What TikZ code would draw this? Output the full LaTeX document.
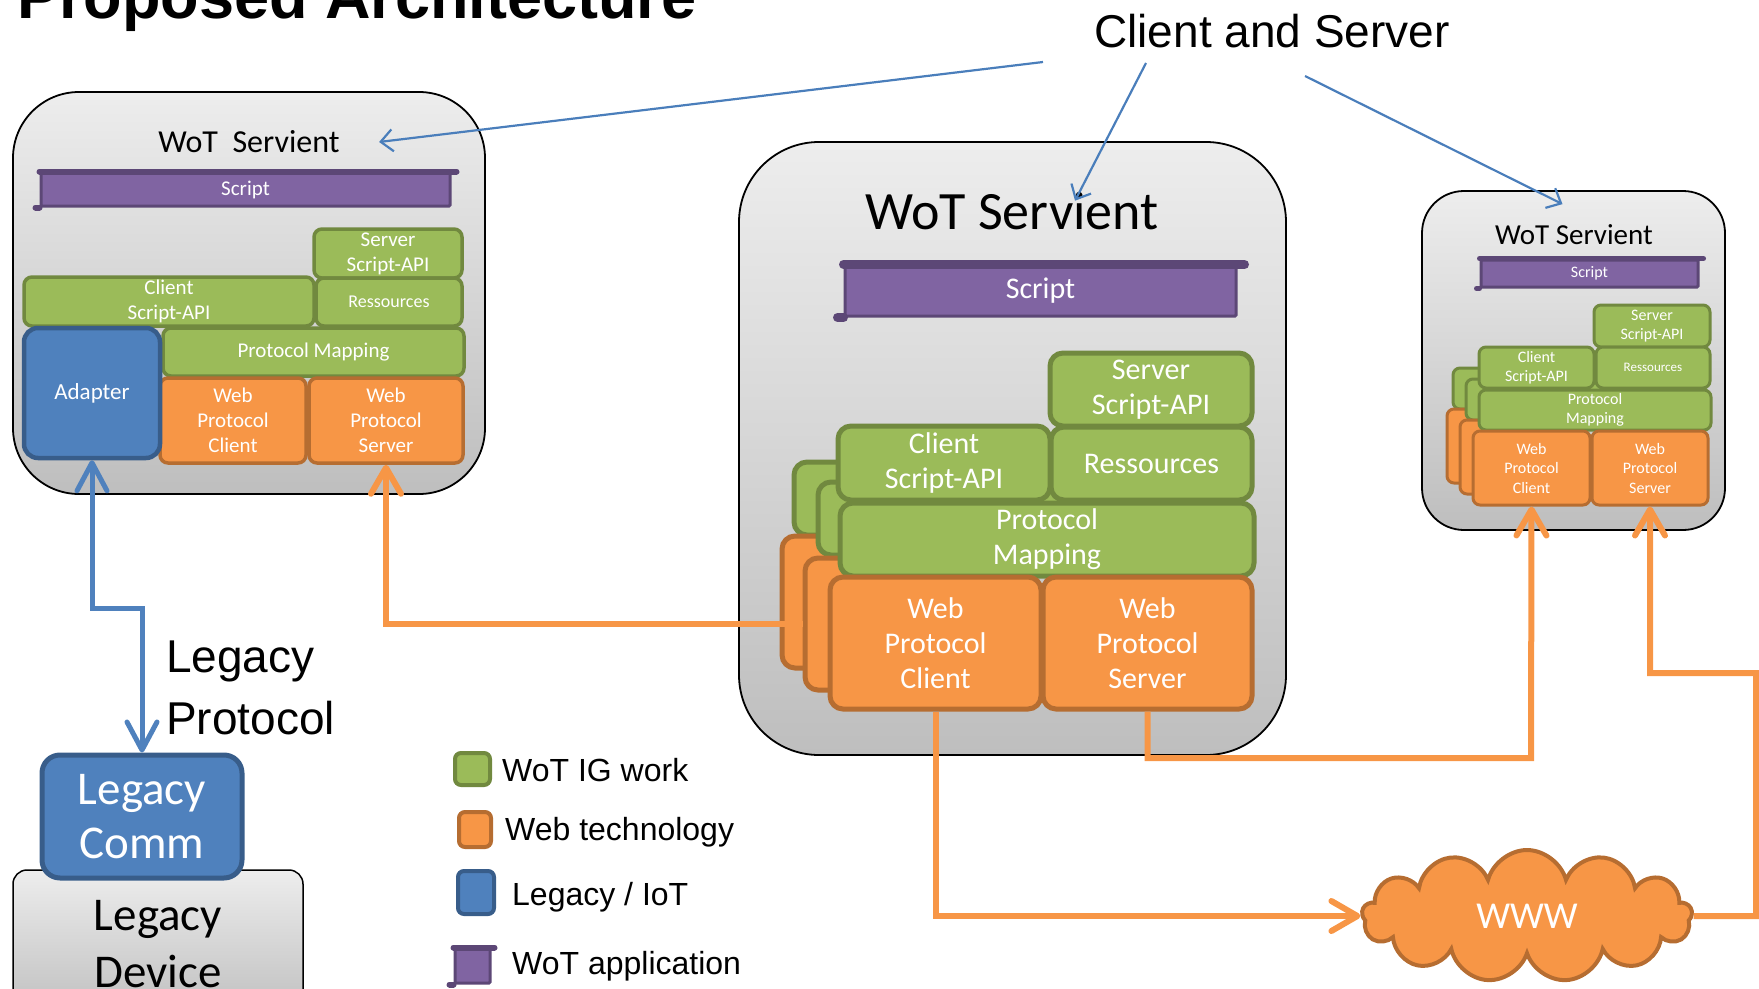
\documentclass[tikz,border=0pt]{standalone}
\usepackage{fontspec}
\setmainfont{Carlito}
\newfontfamily\helv{Liberation Sans}
\usetikzlibrary{arrows.meta,positioning,shapes.symbols}
\newcommand{\fsz}[2]{\fontsize{#1}{#2}\selectfont}

\definecolor{wotgreen}{HTML}{9BBB59}
\definecolor{wotgreenD}{HTML}{71893F}
\definecolor{weborange}{HTML}{F79646}
\definecolor{weborangeD}{HTML}{B66D31}
\definecolor{legblue}{HTML}{4F81BD}
\definecolor{legblueD}{HTML}{385D8A}
\definecolor{apppurple}{HTML}{8064A2}
\definecolor{apppurpleD}{HTML}{5C4776}
\definecolor{servtop}{HTML}{EDEDED}
\definecolor{servbot}{HTML}{BEBEBE}
\definecolor{calloutblue}{HTML}{4A7EBB}

\tikzset{
  dims/.style 2 args={minimum width=#1pt, minimum height=#2pt},
  stackbox/.style={rounded corners=8pt, line width=3.5pt, inner sep=0pt, align=center, text=white},
  wotig/.style={stackbox, fill=wotgreen, draw=wotgreenD},
  webtech/.style={stackbox, fill=weborange, draw=weborangeD},
  legacy/.style={stackbox, fill=legblue, draw=legblueD},
  scriptbar/.style={stackbox, rounded corners=1pt, line width=3pt, fill=apppurple, draw=apppurpleD},
  scrollrim/.style={draw=apppurpleD, line width=7pt, line cap=round},
  servient/.style={draw=black, line width=1.8pt, top color=servtop, bottom color=servbot, inner sep=0pt, align=center},
  webarrow/.style={draw=weborange, line width=6pt, -{Straight Barb[length=26pt,width=30pt,round]}},
  legline/.style={draw=legblue, line width=5pt},
  callout/.style={draw=calloutblue, line width=2.2pt, -{Straight Barb[length=12pt,width=22pt]}},
  keytext/.style={anchor=west, inner sep=0pt, font=\helv\fsz{32}{36}}
}

\begin{document}
\begin{tikzpicture}[x=1pt, y=-1pt]
\useasboundingbox (0,0) rectangle (1759,988);
\clip (0,0) rectangle (1759,988);

\node[anchor=base west, inner sep=0pt, font=\helv\bfseries\fsz{63}{63}] (title) at (17,18) {Proposed Architecture};
\node[anchor=base west, inner sep=0pt, font=\helv\fsz{46}{50}] (cands) at (1094,47) {Client and Server};

% left servient
\node[servient, rounded corners=66pt, dims={472}{402}] (lserv) at (249,293) {};
\node[font=\fsz{32}{36}] (ltitle) at (249,142) {WoT~~Servient};
\begin{scope}[every node/.append style={font=\fsz{21}{25}}]
  \node[scriptbar, dims={409}{33}] (lscript) at (245.5,189.5) {Script};
  \draw[scrollrim, line width=6pt] (lscript.north west) -- ([xshift=5pt]lscript.north east);
  \draw[scrollrim, line width=6pt] ([xshift=-4pt]lscript.south west) -- (lscript.south west);
  \node[wotig, dims={148}{49}] (lsapi) at (388,253.5) {Server\\Script-API};
  \node[wotig, dims={290}{49}] (lcapi) at (169,301.5) {Client\\Script-API};
  \node[wotig, dims={146}{48}, font=\fsz{18}{22}] (lres) at (389,302) {Ressources};
  \node[wotig, dims={301}{48}] (lpm) at (313.5,352) {Protocol Mapping};
  \node[webtech, dims={146}{85}] (lwpc) at (233,420.5) {Web\\Protocol\\Client};
  \node[webtech, dims={154}{85}] (lwps) at (386,420.5) {Web\\Protocol\\Server};
  \node[legacy, rounded corners=14pt, line width=4.5pt, dims={136}{130}, font=\fsz{23}{27}] (adapter) at (92,393) {Adapter};
\end{scope}

% middle servient
\node[servient, rounded corners=80pt, dims={547}{613}] (mserv) at (1012.5,448.5) {};
\node[font=\fsz{54}{58}] (mtitle) at (1012,211) {WoT Servient};
\begin{scope}[every node/.append style={font=\fsz{30}{35}}, wotig/.append style={rounded corners=13pt, line width=5pt}, webtech/.append style={rounded corners=13pt, line width=5pt}]
  \node[scriptbar, dims={391}{50}] (mscript) at (1040.5,291) {Script};
  \draw[scrollrim, line width=9pt] (mscript.north west) -- ([xshift=7pt]mscript.north east);
  \draw[scrollrim, line width=9pt] ([xshift=-6pt]mscript.south west) -- (mscript.south west);
  \node[wotig, dims={414}{73}] (mpmback) at (1001,498.5) {};
  \node[webtech, dims={211}{132}] (mwpcback) at (887.5,602) {};
  \node[wotig, dims={414}{73}] (mpmmid) at (1025,518.5) {};
  \node[webtech, dims={211}{132}] (mwpcmid) at (910.5,624) {};
  \node[wotig, dims={202}{73}] (msapi) at (1151,389.5) {Server\\Script-API};
  \node[wotig, dims={212}{74}] (mcapi) at (944,463) {Client\\Script-API};
  \node[wotig, dims={201}{73}] (mres) at (1151.5,463.5) {Ressources};
  \node[wotig, dims={414}{73}] (mpm) at (1047,539.5) {Protocol\\Mapping};
  \node[webtech, dims={211}{132}] (mwpc) at (935.5,643) {Web\\Protocol\\Client};
  \node[webtech, dims={209}{132}] (mwps) at (1147.5,643) {Web\\Protocol\\Server};
\end{scope}

% right servient
\node[servient, rounded corners=42pt, dims={303}{339}] (rserv) at (1573.5,360.5) {};
\node[font=\fsz{29}{32}] (rtitle) at (1574,235) {WoT Servient};
\begin{scope}[every node/.append style={font=\fsz{16}{19.5}}, wotig/.append style={rounded corners=7pt, line width=3pt}, webtech/.append style={rounded corners=7pt, line width=3pt}]
  \node[scriptbar, dims={217}{27}] (rscript) at (1589.5,273.5) {Script};
  \draw[scrollrim, line width=5pt] (rscript.north west) -- ([xshift=4pt]rscript.north east);
  \draw[scrollrim, line width=5pt] ([xshift=-3pt]rscript.south west) -- (rscript.south west);
  \node[wotig, dims={232}{41}] (rpmback) at (1569,388.5) {};
  \node[webtech, dims={117}{74}] (rwpcback) at (1505.5,446) {};
  \node[wotig, dims={232}{41}] (rpmmid) at (1582,399.5) {};
  \node[webtech, dims={117}{74}] (rwpcmid) at (1518.5,457) {};
  \node[wotig, dims={116}{42}] (rsapi) at (1652,326) {Server\\Script-API};
  \node[wotig, dims={115}{41}] (rcapi) at (1536.5,367.5) {Client\\Script-API};
  \node[wotig, dims={114}{41}, font=\fsz{13}{16}] (rres) at (1653,367.5) {Ressources};
  \node[wotig, dims={232}{40}] (rpm) at (1595,410) {Protocol\\Mapping};
  \node[webtech, dims={117}{74}] (rwpc) at (1531.5,468) {Web\\Protocol\\Client};
  \node[webtech, dims={116}{74}] (rwps) at (1650,468) {Web\\Protocol\\Server};
\end{scope}

% legacy side
\node[servient, rounded corners=14pt, line width=1.5pt, dims={290}{149}, font=\fsz{47}{57}] (ldevice) at (158,944.5) {Legacy\\Device};
\node[legacy, rounded corners=18pt, line width=5pt, dims={200}{123}, font=\fsz{47}{54}] (lcomm) at (142,816.5) {Legacy\\Comm};
\node[anchor=west, align=left, inner sep=0pt, font=\helv\fsz{46}{62}] (lproto) at (166,688) {Legacy\\Protocol};

% cloud
\node[cloud, cloud puffs=13, aspect=2.4, draw=weborangeD, fill=weborange, line width=4pt, text=white, font=\fsz{38}{40}, minimum width=330pt, minimum height=132pt, inner sep=0pt] (www) at (1527,916) {WWW};

% legend
\node[wotig, line width=4pt, rounded corners=6pt, dims={35}{32}] (keyig) at (472.5,769) {};
\node[keytext] (keyigtext) at (502,770) {WoT IG work};
\node[webtech, line width=4pt, rounded corners=6pt, dims={32}{35}] (keyweb) at (475,829.5) {};
\node[keytext] (keywebtext) at (505,832) {Web technology};
\node[legacy, line width=4pt, rounded corners=6pt, dims={36}{43}] (keyleg) at (476,892.5) {};
\node[keytext] (keylegtext) at (512,897) {Legacy / IoT};
\node[scriptbar, dims={35}{34}] (keyapp) at (472.5,966) {};
\draw[scrollrim, line width=6pt] (keyapp.north west) -- ([xshift=3pt]keyapp.north east);
\draw[scrollrim, line width=6pt] ([xshift=-4pt]keyapp.south west) -- (keyapp.south west);
\node[keytext] (keyapptext) at (512,966) {WoT application};

% connectors
\coordinate (legbend) at (92,608);
\draw[legline, {Straight Barb[length=28pt,width=30pt,round]}-{Straight Barb[length=28pt,width=30pt,round]}] (adapter.south) -- (legbend) -| (lcomm.north);
\draw[webarrow] (mwpcmid.west) -| (lwps.south);
\draw[webarrow] (mwpc.south) |- (www.west);
\coordinate (rjoin) at (1531,758);
\draw[webarrow] (mwps.south) |- (rjoin) -- (rwpc.south);
\coordinate (wwwright) at (1756,916);
\coordinate (wwwup) at (1756,673);
\draw[webarrow] (www.east) -- (wwwright) -- (wwwup) -| (rwps.south);

\coordinate (csa) at (1043,62);
\coordinate (csb) at (1146,63);
\coordinate (csc) at (1305,76);
\draw[callout] (csa) -- ([xshift=36pt]ltitle.east);
\draw[callout] (csb) -- ([xshift=63pt,yshift=-12pt]mtitle.north);
\draw[callout] (csc) -- ([xshift=-11pt,yshift=-14pt]rserv.north);
\end{tikzpicture}
\end{document}
